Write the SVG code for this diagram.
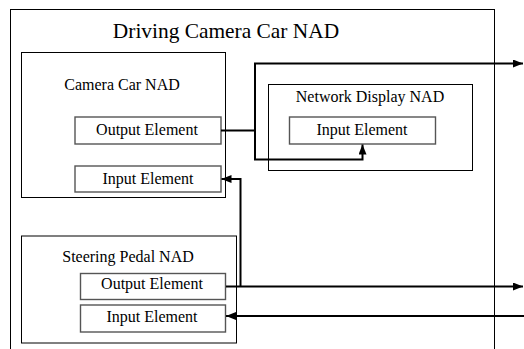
<svg xmlns="http://www.w3.org/2000/svg" width="524" height="349" viewBox="0 0 524 349">
<style>
  text { font-family: "Liberation Serif", "Times New Roman", serif; fill: #000; text-anchor: middle; }
  .nad { fill: none; stroke: #000; stroke-width: 1; }
  .el { fill: #fff; stroke: #555; stroke-width: 1.4; }
  .lbl { font-size: 16px; }
  .title { font-size: 21.4px; }
  .conn { fill: none; stroke: #000; stroke-width: 2; }
</style>
<defs>
  <marker id="arrow" markerUnits="userSpaceOnUse" markerWidth="10" markerHeight="8" refX="10" refY="4" orient="auto">
    <path d="M0,0 L10,4 L0,8 z" fill="#000"/>
  </marker>
</defs>
<rect width="524" height="349" fill="#fff"/>

<g id="driving-camera-car-nad">
  <rect class="nad" x="10.5" y="9.5" width="484" height="350"/>
  <text class="title" x="226" y="38">Driving Camera Car NAD</text>
</g>

<g id="camera-car-nad">
  <rect class="nad" x="21.5" y="52.5" width="204" height="145"/>
  <text class="lbl" x="122" y="90">Camera Car NAD</text>
</g>
<g id="camera-car-output">
  <rect class="el" x="75" y="117" width="146" height="27"/>
  <text class="lbl" x="147" y="135">Output Element</text>
</g>
<g id="camera-car-input">
  <rect class="el" x="75" y="166" width="146" height="26"/>
  <text class="lbl" x="148" y="184">Input Element</text>
</g>

<g id="network-display-nad">
  <rect class="nad" x="268.5" y="84.5" width="204" height="86"/>
  <text class="lbl" x="370" y="102">Network Display NAD</text>
</g>
<g id="network-display-input">
  <rect class="el" x="289.5" y="117" width="146" height="27"/>
  <text class="lbl" x="362" y="135">Input Element</text>
</g>

<g id="steering-pedal-nad">
  <rect class="nad" x="21.5" y="236" width="215" height="107"/>
  <text class="lbl" x="128" y="262">Steering Pedal NAD</text>
</g>
<g id="steering-pedal-output">
  <rect class="el" x="80.5" y="273.5" width="145" height="26"/>
  <text class="lbl" x="152" y="289">Output Element</text>
</g>
<g id="steering-pedal-input">
  <rect class="el" x="80.5" y="305" width="145" height="27"/>
  <text class="lbl" x="152" y="321.5">Input Element</text>
</g>

<g id="connectors">
  <path class="conn" d="M221,130.5 H255 V63.5 H523" marker-end="url(#arrow)"/>
  <path class="conn" d="M255,130.5 V159.5 H362.5 V144.5" marker-end="url(#arrow)"/>
  <path class="conn" d="M226,286.5 H523" marker-end="url(#arrow)"/>
  <path class="conn" d="M240.5,286.5 V179 H221.5" marker-end="url(#arrow)"/>
  <path class="conn" d="M524,316 H226" marker-end="url(#arrow)"/>
</g>
</svg>
